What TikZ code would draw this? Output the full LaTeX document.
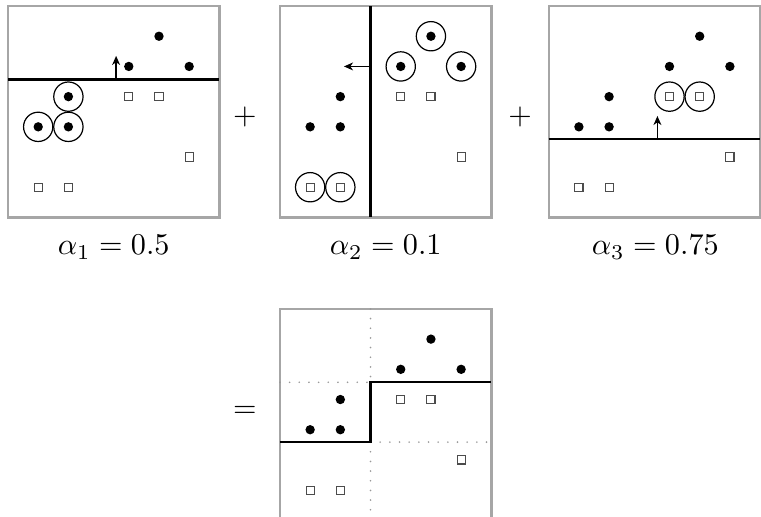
\documentclass[tikz,border=0pt]{standalone}
\usepackage{amsmath}
\usetikzlibrary{arrows.meta}

% the eleven training samples, same in every panel
\newcommand{\samples}{%
  \foreach \px/\py in {5/1,4/2,6/2,2/3,1/4,2/4}
    \node[posdot] at (\px,\py) {};
  \foreach \px/\py in {4/3,5/3,6/5,1/6,2/6}
    \node[negsq] at (\px,\py) {};
}

\begin{document}
\begin{tikzpicture}[
    x=10pt, y=-10pt,
    panel/.style={draw=black!35, line width=0.8pt},
    posdot/.style={circle, fill=black, inner sep=0pt, minimum size=3.1pt},
    negsq/.style={rectangle, draw=black!70, line width=0.35pt, inner sep=0pt, minimum size=2.7pt},
    halo/.style={circle, draw, line width=0.4pt, inner sep=0pt, minimum size=9.7pt},
    stump/.style={line width=0.75pt},
    shiftarr/.style={-{Stealth[length=3pt, width=2.6pt, inset=0.9pt]}, line width=0.5pt},
    guide/.style={black!40, line width=0.6pt, line cap=round, dash pattern=on 0pt off 3.2pt}
]
\useasboundingbox (0,0) rectangle (25.2,17.12);

% round 1
\begin{scope}[shift={(0.265,0.2)}]
  \draw[panel] (0,0) rectangle (7,7);
  \samples
  \foreach \px/\py in {2/3,1/4,2/4}
    \node[halo] at (\px,\py) {};
  \draw[stump] (0,2.43) -- (7,2.43);
  \coordinate (base1) at (3.58,2.43);
  \coordinate (tip1) at (3.58,1.65);
  \draw[shiftarr] (base1) -- (tip1);
\end{scope}

% round 2
\begin{scope}[shift={(9.27,0.2)}]
  \draw[panel] (0,0) rectangle (7,7);
  \samples
  \foreach \px/\py in {5/1,4/2,6/2,1/6,2/6}
    \node[halo] at (\px,\py) {};
  \draw[stump] (3,0) -- (3,7);
  \coordinate (base2) at (3,2);
  \coordinate (tip2) at (2.12,2);
  \draw[shiftarr] (base2) -- (tip2);
\end{scope}

% round 3
\begin{scope}[shift={(18.17,0.2)}]
  \draw[panel] (0,0) rectangle (7,7);
  \samples
  \foreach \px/\py in {4/3,5/3}
    \node[halo] at (\px,\py) {};
  \draw[stump] (0,4.41) -- (7,4.41);
  \coordinate (base3) at (3.6,4.41);
  \coordinate (tip3) at (3.6,3.64);
  \draw[shiftarr] (base3) -- (tip3);
\end{scope}

% combined classifier
\begin{scope}[shift={(9.27,10.23)}]
  \draw[panel] (0,6.95) |- (7,0) -- (7,6.95);
  \draw[guide] (3,0) -- (3,2.43);
  \draw[guide] (3,4.41) -- (3,6.95);
  \draw[guide] (0,2.43) -- (3,2.43);
  \draw[guide] (3,4.41) -- (7,4.41);
  \samples
  \draw[stump] (0,4.41) -- (3,4.41) -- (3,2.43) -- (7,2.43);
\end{scope}

\node (w1) at (3.765,8.18) {$\alpha_1 = 0.5$};
\node (w2) at (12.77,8.18) {$\alpha_2 = 0.1$};
\node (w3) at (21.7,8.18) {$\alpha_3 = 0.75$};

\node (plus1) at (8.11,3.87) {$+$};
\node (plus2) at (17.22,3.87) {$+$};
\node (equals) at (8.11,13.64) {$=$};

\end{tikzpicture}
\end{document}
